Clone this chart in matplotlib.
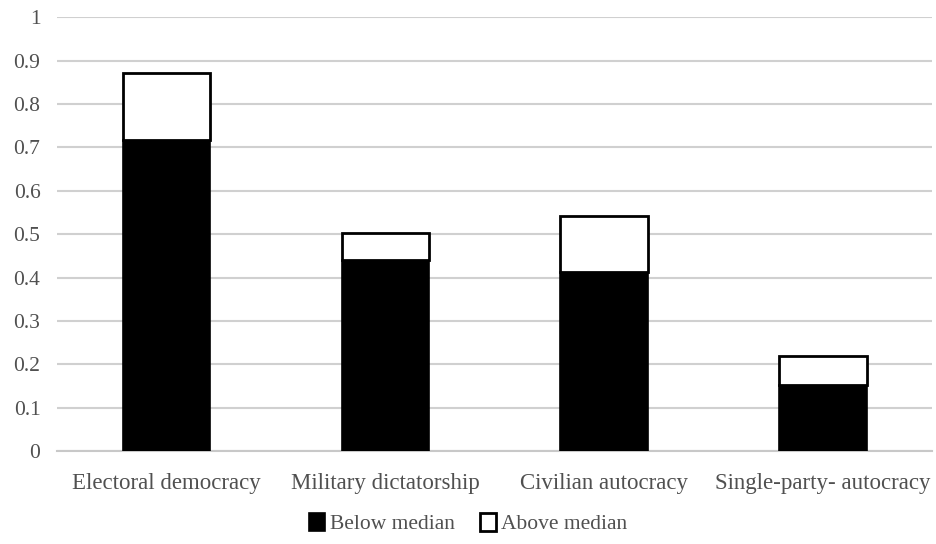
import matplotlib
matplotlib.use("Agg")
import matplotlib.pyplot as plt
import numpy as np

categories = ["Electoral democracy", "Military dictatorship", "Civilian autocracy", "Single-party- autocracy"]
below_median = [0.718, 0.440, 0.412, 0.152]
above_median = [0.154, 0.063, 0.130, 0.068]
yticks = [0, 0.1, 0.2, 0.3, 0.4, 0.5, 0.6, 0.7, 0.8, 0.9, 1]
ytick_labels = ["0", "0.1", "0.2", "0.3", "0.4", "0.5", "0.6", "0.7", "0.8", "0.9", "1"]

plt.rcParams['font.family'] = ['Liberation Serif', 'DejaVu Serif']

fig = plt.figure(figsize=(9.36, 5.44), dpi=100)
ax = fig.add_axes([0.061, 0.171, 0.935, 0.797])

x = np.arange(len(categories))
ax.bar(x, below_median, width=0.4, color="black", edgecolor="black", linewidth=1.2,
       label="Below median", zorder=3)
ax.bar(x, above_median, width=0.4, bottom=below_median, color="white", edgecolor="black",
       linewidth=2, label="Above median", zorder=3)

ax.set_xlim(-0.5, len(categories) - 0.5)
ax.set_ylim(0, 1)
ax.set_yticks(yticks)
ax.set_yticklabels(ytick_labels)
ax.set_xticks(x)
ax.set_xticklabels(categories)
ax.yaxis.grid(True, color="#d0d0d0", linewidth=1.5, zorder=0)
ax.set_axisbelow(True)
for s in ["top", "right", "left"]:
    ax.spines[s].set_visible(False)
ax.spines["bottom"].set_color("#c8c8c8")
ax.spines["bottom"].set_linewidth(1.5)
ax.tick_params(axis="x", length=0, labelsize=16.5, labelcolor="#505050", pad=16)
ax.tick_params(axis="y", length=0, labelsize=15.5, labelcolor="#505050", pad=12)

leg = fig.legend(loc="lower center", bbox_to_anchor=(0.5, -0.018), ncol=2, frameon=False,
                 fontsize=15.5, handlelength=0.75, handleheight=0.85, handletextpad=0.2,
                 columnspacing=1.2)
for t in leg.get_texts():
    t.set_color("#505050")

fig.savefig("out.png", dpi=100)
